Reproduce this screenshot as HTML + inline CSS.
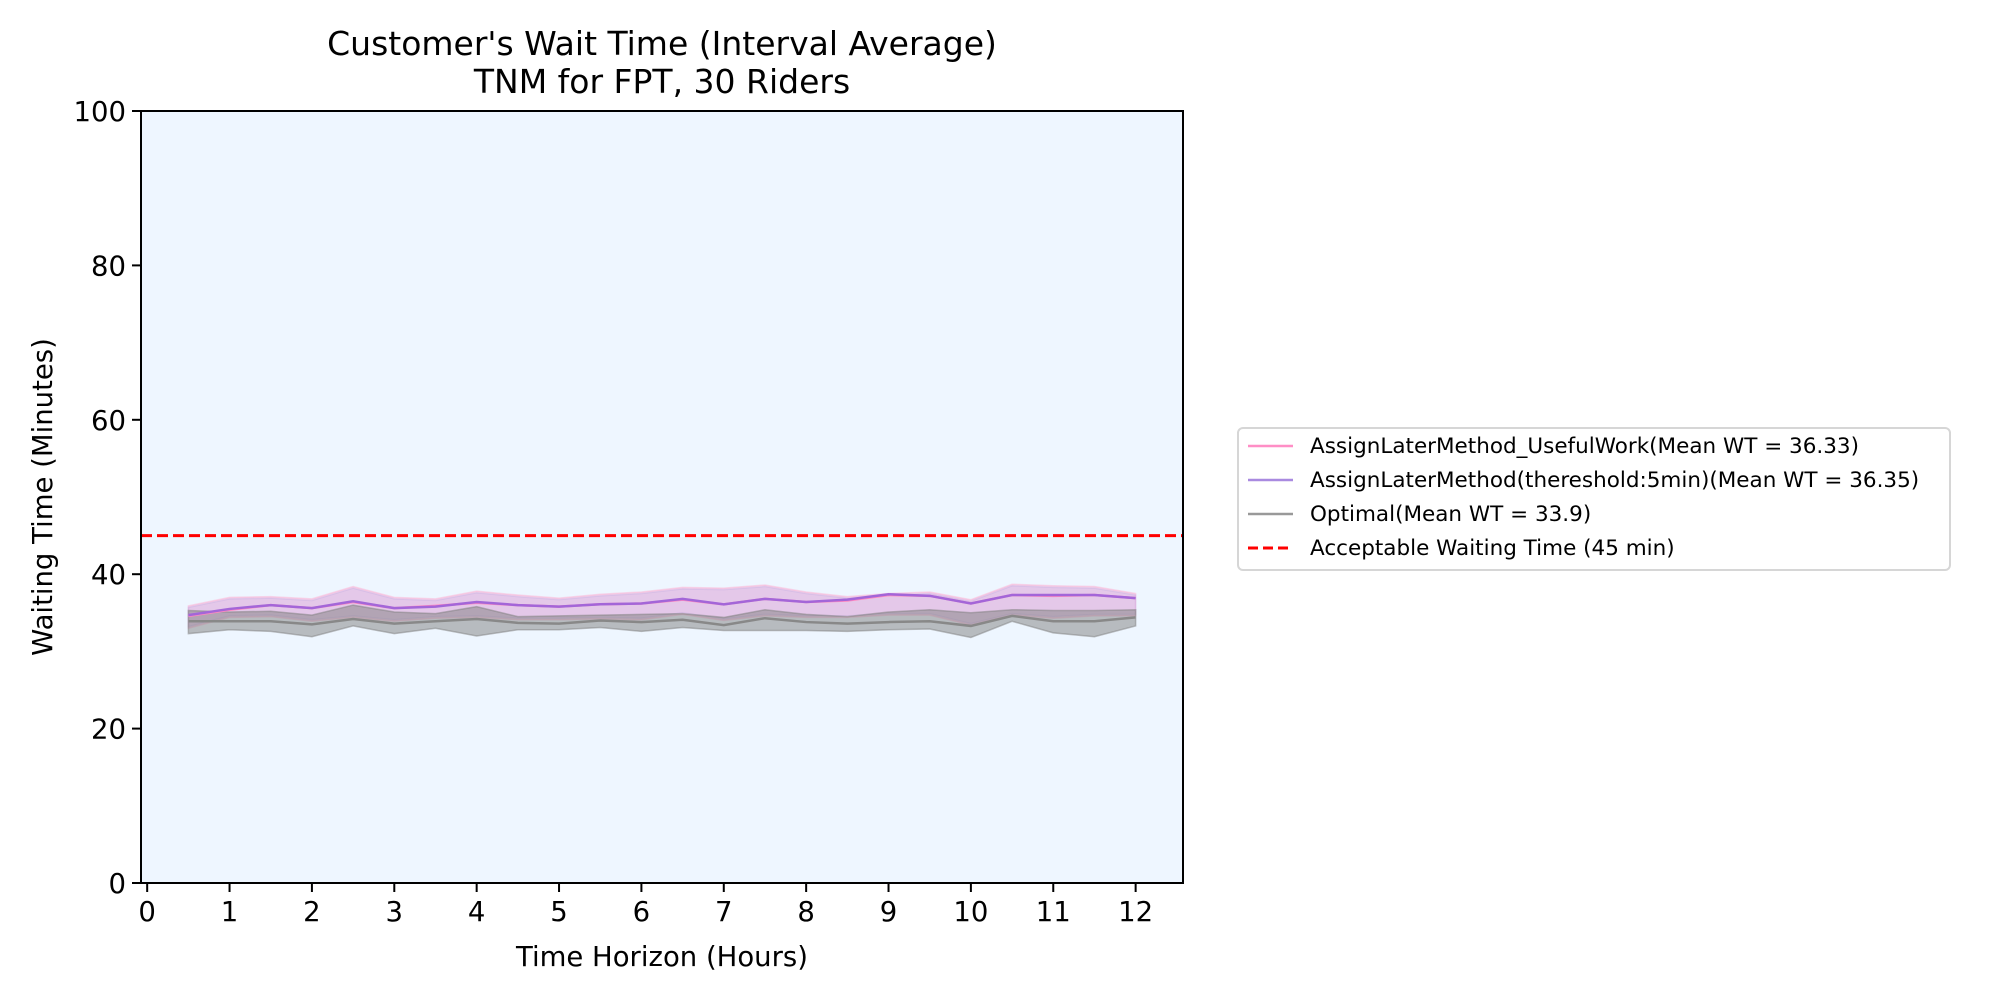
<!DOCTYPE html>
<html><head><meta charset="utf-8"><style>
html,body{margin:0;padding:0;background:#fff;}
svg{display:block;font-family:"DejaVu Sans","Liberation Sans",sans-serif;}
</style></head><body>
<svg id="chart" width="2000" height="1000" viewBox="0 0 2000 1000">
<text x="662" y="55" font-size="33" text-anchor="middle">Customer's Wait Time (Interval Average)</text>
<text x="662" y="93" font-size="33" text-anchor="middle">TNM for FPT, 30 Riders</text>
<rect x="141" y="111" width="1042" height="772" fill="#eef6ff"/>
<g id="marks"></g>
<rect x="141" y="111" width="1042" height="772" fill="none" stroke="#000" stroke-width="2"/>
<g id="axes"></g>
<text x="662" y="966" font-size="27.5" text-anchor="middle">Time Horizon (Hours)</text>
<text transform="translate(52,497) rotate(-90)" font-size="27.5" text-anchor="middle">Waiting Time (Minutes)</text>
<g>
<rect x="1238" y="428" width="712" height="142" rx="5" fill="#fff" stroke="#d6d6d6" stroke-width="2"/>
<line x1="1248" y1="446" x2="1293" y2="446" stroke="#ff8ec6" stroke-width="2.5"/>
<text x="1310" y="453" font-size="21.5">AssignLaterMethod_UsefulWork(Mean WT = 36.33)</text>
<line x1="1248" y1="480" x2="1293" y2="480" stroke="#a98ae0" stroke-width="2.5"/>
<text x="1310" y="487" font-size="21.5">AssignLaterMethod(thereshold:5min)(Mean WT = 36.35)</text>
<line x1="1248" y1="514" x2="1293" y2="514" stroke="#999" stroke-width="2.5"/>
<text x="1310" y="521" font-size="21.5">Optimal(Mean WT = 33.9)</text>
<line x1="1248" y1="548" x2="1293" y2="548" stroke="#f00" stroke-width="3" stroke-dasharray="10,5"/>
<text x="1310" y="555" font-size="21.5">Acceptable Waiting Time (45 min)</text>
</g>
</svg>
<script>
const hours = [0.5,1,1.5,2,2.5,3,3.5,4,4.5,5,5.5,6,6.5,7,7.5,8,8.5,9,9.5,10,10.5,11,11.5,12];
const usefulMean = [34.6,35.4,36.0,35.6,36.4,35.6,35.9,36.3,36.0,35.8,36.1,36.2,36.7,36.1,36.8,36.4,36.6,37.3,37.2,36.2,37.3,37.2,37.3,36.9];
const usefulUpper = [35.9,37.0,37.1,36.8,38.4,37.0,36.8,37.8,37.3,36.9,37.4,37.7,38.3,38.2,38.6,37.7,37.1,37.5,37.7,36.7,38.7,38.5,38.4,37.5];
const usefulLower = [33.0,34.4,34.5,33.9,34.4,33.9,34.3,34.4,34.1,34.1,34.2,34.1,34.8,34.0,34.6,34.4,34.4,34.7,34.7,33.4,34.7,34.3,34.6,34.6];
const threshMean = [34.7,35.5,36.0,35.6,36.5,35.6,35.8,36.4,36.0,35.8,36.1,36.2,36.8,36.1,36.8,36.4,36.7,37.4,37.2,36.2,37.3,37.3,37.3,36.9];
const threshUpper = [35.7,36.8,36.9,36.6,38.2,36.8,36.6,37.6,37.1,36.7,37.2,37.5,38.1,38.0,38.4,37.5,36.9,37.3,37.5,36.5,38.5,38.3,38.2,37.3];
const threshLower = [33.2,34.6,34.7,34.1,34.6,34.1,34.5,34.6,34.3,34.3,34.4,34.3,35.0,34.2,34.8,34.6,34.6,34.9,34.9,33.6,34.9,34.5,34.8,34.8];
const optMean = [33.9,33.9,33.9,33.5,34.2,33.6,33.9,34.2,33.7,33.6,34.0,33.8,34.1,33.4,34.3,33.8,33.6,33.8,33.9,33.3,34.6,33.9,33.9,34.4];
const optUpper = [35.3,35.1,35.2,34.7,36.0,35.1,34.9,35.8,34.5,34.6,34.7,34.8,34.9,34.4,35.4,34.8,34.5,35.1,35.4,35.0,35.4,35.3,35.3,35.4];
const optLower = [32.3,32.8,32.6,31.9,33.3,32.3,33.0,32.0,32.8,32.8,33.1,32.6,33.1,32.7,32.7,32.7,32.6,32.8,32.9,31.8,33.9,32.4,31.9,33.3];
const acceptable = [45];
const xTicks = [0,1,2,3,4,5,6,7,8,9,10,11,12];
const yTicks = [0,20,40,60,80,100];

const L=141,R=1183,T=111,B=883,XMIN=-0.075,XMAX=12.575,YMIN=0,YMAX=100;
const sx=v=>L+(v-XMIN)/(XMAX-XMIN)*(R-L);
const sy=v=>B-(v-YMIN)/(YMAX-YMIN)*(B-T);
const NS='http://www.w3.org/2000/svg';
const marks=document.getElementById('marks'), axes=document.getElementById('axes');
function mk(tag,attrs,parent){const e=document.createElementNS(NS,tag);for(const k in attrs)e.setAttribute(k,attrs[k]);parent.appendChild(e);return e;}
function band(up,lo,fill,op,name){
  let d='M'+hours.map((h,i)=>sx(h)+','+sy(up[i])).join('L');
  d+='L'+hours.slice().reverse().map((h,j)=>{const i=hours.length-1-j;return sx(h)+','+sy(lo[i]);}).join('L')+'Z';
  const p=mk('path',{d:d,fill:fill,'fill-opacity':op,stroke:fill,'stroke-opacity':op,'stroke-width':1.5},marks);
  
  
}
function line(vals,color,w,name){
  const p=mk('polyline',{points:hours.map((h,i)=>sx(h)+','+sy(vals[i])).join(' '),fill:'none',stroke:color,'stroke-width':w},marks);
  
  
}
band(usefulUpper,usefulLower,'#ff9ec8',0.35,'usefulwork-band');
band(threshUpper,threshLower,'#b39ae0',0.25,'threshold-band');
band(optUpper,optLower,'#808080',0.5,'optimal-band');
line(usefulMean,'#ff88c0',2.5,'usefulwork-line');
line(threshMean,'#a366d8',2.5,'threshold-line');
line(optMean,'#888',2.5,'optimal-line');
const al=mk('line',{x1:L,x2:R,y1:sy(acceptable[0]),y2:sy(acceptable[0]),stroke:'#f00','stroke-width':3,'stroke-dasharray':'11,5'},marks);


xTicks.forEach(t=>{
  const tk=mk('line',{x1:sx(t),x2:sx(t),y1:B,y2:B+9,stroke:'#000','stroke-width':2},axes);
  
  
  const tx=mk('text',{x:sx(t),y:B+38,'font-size':27.5,'text-anchor':'middle'},axes);
  tx.textContent=t;
  
  
});
yTicks.forEach(t=>{
  const tk=mk('line',{x1:L-9,x2:L,y1:sy(t),y2:sy(t),stroke:'#000','stroke-width':2},axes);
  
  
  const tx=mk('text',{x:L-15,y:sy(t)+10,'font-size':27.5,'text-anchor':'end'},axes);
  tx.textContent=t;
  
  
});
</script>
</body></html>
